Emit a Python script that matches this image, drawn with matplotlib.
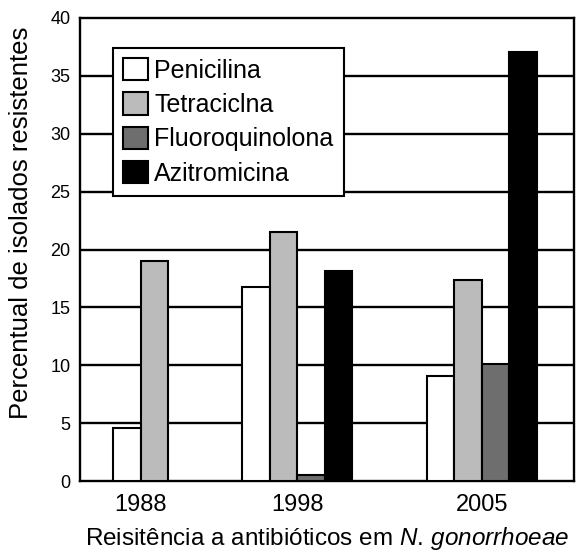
import numpy as np
import matplotlib
matplotlib.use("Agg")
import matplotlib.pyplot as plt
from matplotlib.patches import Patch

plt.rcParams['font.family'] = ['Liberation Sans', 'DejaVu Sans']
plt.rcParams['mathtext.fontset'] = 'custom'
plt.rcParams['mathtext.rm'] = 'Liberation Sans'
plt.rcParams['mathtext.it'] = 'Liberation Sans:italic'

years = ['1988', '1998', '2005']
series = ['Penicilina', 'Tetraciclna', 'Fluoroquinolona', 'Azitromicina']
penicilina = [4.6, 16.8, 9.1]
tetraciclina = [19.0, 21.5, 17.4]
fluoroquinolona = [np.nan, 0.5, 10.1]
azitromicina = [np.nan, 18.1, 37.1]
yticks = [0, 5, 10, 15, 20, 25, 30, 35, 40]

colors = ['#ffffff', '#bbbbbb', '#6e6e6e', '#000000']
values = [penicilina, tetraciclina, fluoroquinolona, azitromicina]

group_centers = [2.2, 7.9, 14.6]
width = 1.0

fig = plt.figure(figsize=(5.85, 5.52), dpi=100)
ax = fig.add_axes([0.1368, 0.1286, 0.8445, 0.8388])

for gi, c in enumerate(group_centers):
    present = [si for si in range(4) if not np.isnan(values[si][gi])]
    n = len(present)
    for k, si in enumerate(present):
        x = c + (k - (n - 1) / 2) * width
        ax.bar(x, values[si][gi], width=width, color=colors[si],
               edgecolor='black', linewidth=1.5, zorder=3)

ax.set_xlim(0, 17.96)
ax.set_ylim(0, 40)
ax.set_yticks(yticks)
ax.set_yticklabels([str(t) for t in yticks], fontsize=13)
ax.set_xticks(group_centers)
ax.set_xticklabels(years, fontsize=17)
ax.tick_params(axis='y', length=0, pad=7)
ax.tick_params(axis='x', length=0, pad=9)
for yv in yticks[1:-1]:
    ax.axhline(yv, color='black', linewidth=1.7, zorder=1)
for s in ax.spines.values():
    s.set_linewidth(1.7)

ax.set_ylabel('Percentual de isolados resistentes', fontsize=18.5)
ax.yaxis.set_label_coords(-0.095, 0.557)
ax.set_xlabel(r'Reisitência a antibióticos em $\mathit{N.\,gonorrhoeae}$', fontsize=17.5, labelpad=7)

handles = [Patch(facecolor=colors[i], edgecolor='black', linewidth=1.5, label=series[i]) for i in range(4)]
leg = ax.legend(handles=handles, loc='upper left', bbox_to_anchor=(0.067, 0.935),
                fontsize=18, frameon=True, fancybox=False, framealpha=1,
                edgecolor='black', handlelength=1.0, handleheight=1.0,
                handletextpad=0.25, borderpad=0.4, labelspacing=0.38, borderaxespad=0)
leg.get_frame().set_linewidth(1.5)
leg.set_zorder(5)

fig.savefig('out.png', dpi=100)
